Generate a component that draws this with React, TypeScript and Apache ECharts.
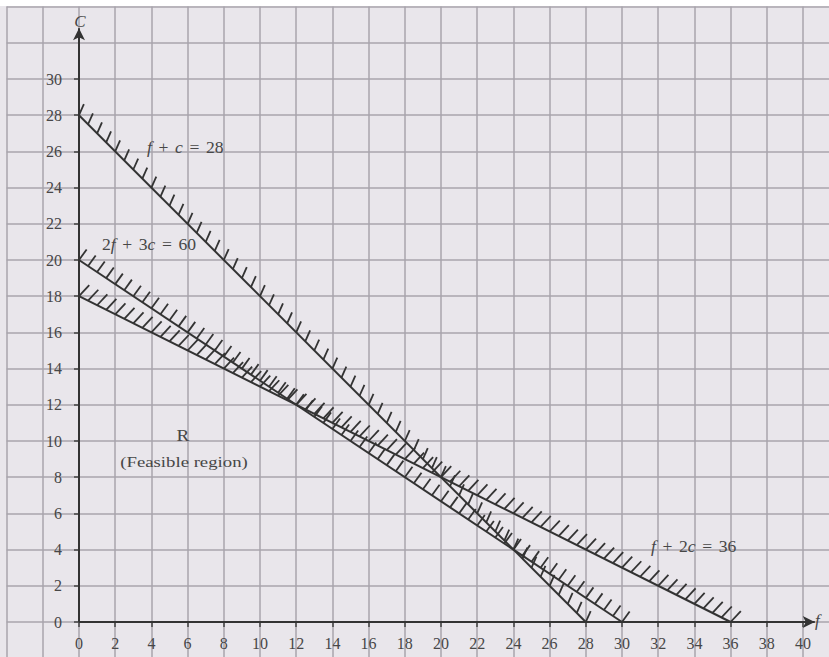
import React, { useEffect, useRef } from "react";
import * as echarts from "echarts";

// Constraints: coefF * f + coefC * c = rhs
const constraintLabels = [
  "{i|f} {op|+} {i|c} {op|=} 28",
  "2{i|f} {op|+} 3{i|c} {op|=} 60",
  "{i|f} {op|+} 2{i|c} {op|=} 36",
];
const coefF = [1, 2, 1];
const coefC = [1, 3, 2];
const rhs = [28, 60, 36];
// hatch decoration (style)
const hatchAngle = [66, 54, 47];
const hatchLen = [12, 13, 15];
const hatchStep = 0.5;

const xMin = 0, xMax = 40, yMin = 0, yMax = 30, tickStep = 2;

const SERIF = "'Liberation Serif', 'DejaVu Serif', serif";
const INK = "#333";
const TXT = "#474747";

export default function App() {
  const ref = useRef<HTMLDivElement>(null);
  useEffect(() => {
    if (!ref.current) return;
    const chart = echarts.init(ref.current, undefined, { renderer: "svg" });
    const ppu = 18.1;
    const x0 = 79, y0 = 622;
    const gMinX = -4, gMaxX = 42, gMinY = -2, gMaxY = 34;

    const lineSeries = rhs.map((r, i) => ({
      type: "line",
      xAxisIndex: 0,
      yAxisIndex: 0,
      data: [[0, r / coefC[i]], [r / coefF[i], 0]],
      symbol: "none",
      lineStyle: { color: INK, width: 2 },
      silent: true,
      z: 5,
    }));

    const rich = {
      i: { fontStyle: "italic", fontFamily: SERIF, fontSize: 16, fill: TXT },
      op: { fontFamily: SERIF, fontSize: 16, fill: TXT, padding: [0, 2] },
    };

    const option: any = {
      animation: false,
      backgroundColor: "#e9e6eb",
      grid: [
        { left: x0 + gMinX * ppu, width: (gMaxX - gMinX) * ppu, top: y0 - gMaxY * ppu, height: (gMaxY - gMinY) * ppu },
        { left: x0, width: (xMax - xMin) * ppu, top: y0 - yMax * ppu, height: (yMax - yMin) * ppu },
      ],
      xAxis: [
        {
          type: "value", gridIndex: 0, min: gMinX, max: gMaxX, interval: tickStep,
          axisLine: { show: false }, axisTick: { show: false }, axisLabel: { show: false },
          splitLine: { show: true, lineStyle: { color: "#a9a4ac", width: 1.5 } },
        },
        {
          type: "value", gridIndex: 1, min: xMin, max: xMax, interval: tickStep,
          axisLine: { show: false },
          axisTick: { show: true, length: 5, lineStyle: { color: "#444", width: 1.5 } },
          axisLabel: { show: true, margin: 13, fontFamily: SERIF, fontSize: 16, color: TXT },
          splitLine: { show: false },
        },
      ],
      yAxis: [
        {
          type: "value", gridIndex: 0, min: gMinY, max: gMaxY, interval: tickStep,
          axisLine: { show: false }, axisTick: { show: false }, axisLabel: { show: false },
          splitLine: { show: true, lineStyle: { color: "#a9a4ac", width: 1.5 } },
        },
        {
          type: "value", gridIndex: 1, min: yMin, max: yMax, interval: tickStep,
          axisLine: { show: false },
          axisTick: { show: true, length: 5, lineStyle: { color: "#444", width: 1.5 } },
          axisLabel: { show: true, margin: 17, fontFamily: SERIF, fontSize: 16, color: TXT },
          splitLine: { show: false },
        },
      ],
      series: [
        ...lineSeries,
        {
          type: "line",
          xAxisIndex: 0,
          yAxisIndex: 0,
          data: [],
          silent: true,
          markLine: {
            silent: true,
            symbol: ["none", "arrow"],
            symbolSize: [9, 12],
            label: { show: false },
            lineStyle: { color: INK, width: 2, type: "solid" },
            data: [
              [{ coord: [0, 0] }, { coord: [40.65, 0] }],
              [{ coord: [0, 0] }, { coord: [0, 32.8] }],
            ],
          },
        },
        {
          type: "custom",
          xAxisIndex: 0,
          yAxisIndex: 0,
          silent: true,
          clip: false,
          z: 4,
          data: rhs.map((_, i) => [i]),
          renderItem: (params: any, api: any) => {
            const i = api.value(0);
            const end = rhs[i] / coefF[i];
            const a = (hatchAngle[i] * Math.PI) / 180;
            const dx = Math.cos(a) * hatchLen[i];
            const dy = -Math.sin(a) * hatchLen[i];
            const children: any[] = [];
            for (let f = 0; f <= end + 1e-9; f += hatchStep) {
              const c = (rhs[i] - coefF[i] * f) / coefC[i];
              const p = api.coord([f, c]);
              children.push({
                type: "line",
                shape: { x1: p[0], y1: p[1], x2: p[0] + dx, y2: p[1] + dy },
                style: { stroke: INK, lineWidth: 1.8 },
              });
            }
            return { type: "group", children };
          },
        },
      ],
      graphic: [
        { type: "rect", shape: { x: 0, y: 0, width: 900, height: 6 }, style: { fill: "#ffffff" }, z: 100 },
        {
          type: "text", x: 147, y: 148, z: 100, scaleX: 1.1,
          style: { text: constraintLabels[0], rich, fontFamily: SERIF, fontSize: 16, fill: TXT, verticalAlign: "middle" },
        },
        {
          type: "text", x: 102, y: 245, z: 100, scaleX: 1.1,
          style: { text: constraintLabels[1], rich, fontFamily: SERIF, fontSize: 16, fill: TXT, verticalAlign: "middle" },
        },
        {
          type: "text", x: 651, y: 547, z: 100, scaleX: 1.1,
          style: { text: constraintLabels[2], rich, fontFamily: SERIF, fontSize: 16, fill: TXT, verticalAlign: "middle" },
        },
        {
          type: "text", x: 183, y: 436, z: 100, scaleX: 1.2,
          style: { text: "R", fontFamily: SERIF, fontSize: 16, fill: TXT, align: "center", verticalAlign: "middle" },
        },
        {
          type: "text", x: 184, y: 462, z: 100, scaleX: 1.25,
          style: { text: "(Feasible region)", fontFamily: SERIF, fontSize: 15, fill: TXT, align: "center", verticalAlign: "middle" },
        },
        {
          type: "text", x: 80, y: 21, z: 100,
          style: { text: "C", fontFamily: SERIF, fontStyle: "italic", fontSize: 17, fill: TXT, align: "center", verticalAlign: "middle" },
        },
        {
          type: "text", x: 815, y: 620, z: 100,
          style: { text: "f", fontFamily: SERIF, fontStyle: "italic", fontSize: 17, fill: TXT, align: "left", verticalAlign: "middle" },
        },
      ],
    };
    chart.setOption(option);
    return () => chart.dispose();
  }, []);
  return (
    <div
      ref={ref}
      style={{ position: "fixed", left: 0, top: 0, width: 860, height: 680 }}
    />
  );
}
